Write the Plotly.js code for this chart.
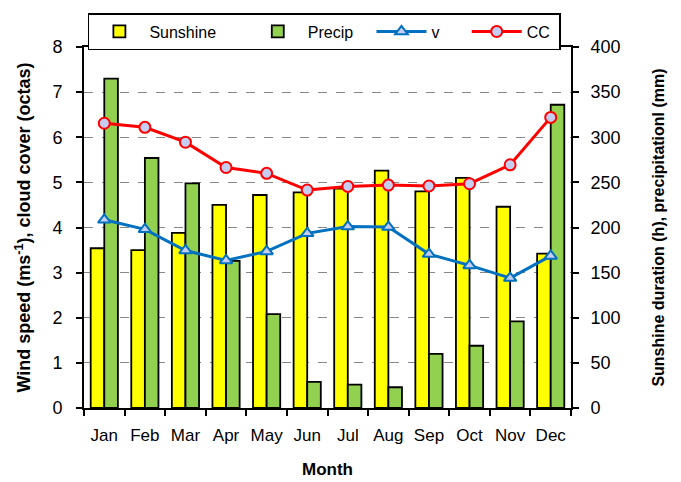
<!DOCTYPE html>
<html>
<head>
<meta charset="utf-8">
<script src="https://cdn.plot.ly/plotly-3.0.1.min.js"></script>
<style>html,body{margin:0;padding:0;background:#fff;}#chart{width:681px;height:482px;}</style>
</head>
<body>
<div id="chart"></div>
<script>
const months = ["Jan","Feb","Mar","Apr","May","Jun","Jul","Aug","Sep","Oct","Nov","Dec"];
const sunshine = [177,175,194,225,236,239,243,263,240,255,223,171];
const precip = [365,277,249,163,104,29,26,23,60,69,96,336];
const windSpeed = [4.17,3.96,3.49,3.27,3.47,3.87,4.02,4.01,3.41,3.16,2.88,3.37];
const cloudCover = [6.31,6.22,5.89,5.33,5.20,4.83,4.91,4.94,4.92,4.97,5.39,6.44];
const leftTicks = [0,1,2,3,4,5,6,7,8];
const rightTicks = [0,50,100,150,200,250,300,350,400];
const seriesNames = ["Sunshine","Precip","v","CC"];

const FONT = "Liberation Sans, Arial, sans-serif";
const NB = "\u00A0";
const pad = (s, n) => s + NB.repeat(n);

const data = [
  {type:"bar", x:months, y:sunshine, name:pad(seriesNames[0],6), yaxis:"y",
   marker:{color:"#ffff00", line:{color:"#000", width:1.8}}},
  {type:"bar", x:months, y:precip, name:pad(seriesNames[1],3), yaxis:"y",
   marker:{color:"#92d050", line:{color:"#000", width:1.8}}},
  {type:"scatter", mode:"lines+markers", x:months, y:windSpeed, name:pad(seriesNames[2],5), yaxis:"y2",
   line:{color:"#0070c0", width:3},
   marker:{symbol:"triangle-up", size:11, color:"#c5cdf0", line:{color:"#0070c0", width:2}}},
  {type:"scatter", mode:"lines+markers", x:months, y:cloudCover, name:pad(seriesNames[3],1), yaxis:"y2",
   line:{color:"#ff0000", width:3},
   marker:{symbol:"circle", size:11, color:"#c5cdf0", line:{color:"#ff0000", width:2}}}
];

const layout = {
  width:681, height:482,
  margin:{l:84, r:110, t:47, b:74, pad:0},
  paper_bgcolor:"#fff", plot_bgcolor:"#fff",
  font:{family:FONT, size:18, color:"#000"},
  barmode:"group", bargap:0.33, bargroupgap:0,
  showlegend:true,
  legend:{orientation:"h", x:0.008, xanchor:"left", y:1.094, yanchor:"top",
    bordercolor:"#000", borderwidth:1.5, bgcolor:"#fff",
    font:{family:FONT, size:16}, itemwidth:50, traceorder:"normal"},
  xaxis:{
    range:[-0.5, 11.5],
    tickfont:{family:FONT, size:17}, tickangle:0, ticklabelstandoff:11,
    showline:true, linecolor:"#000", linewidth:2, mirror:true,
    ticks:"outside", ticklen:6, tickwidth:1.5, tickcolor:"#000",
    tickson:"boundaries", showgrid:false, zeroline:false,
    title:{text:"Month", font:{family:FONT, size:17, color:"#000", weight:"bold"}, standoff:19}
  },
  yaxis:{
    side:"right", range:[0,400], tickvals:rightTicks, ticktext:rightTicks.map(String),
    showline:true, linecolor:"#000", linewidth:2,
    ticks:"outside", ticklen:6, tickwidth:1.5, tickcolor:"#000", ticklabelstandoff:8,
    showgrid:true, gridcolor:"#888", griddash:"dash", gridwidth:1, zeroline:false,
    tickfont:{family:FONT, size:18},
    title:{text:"Sunshine duration (h), precipitationl (mm)", font:{family:FONT, size:16, color:"#000", weight:"bold"}, standoff:33}
  },
  yaxis2:{
    overlaying:"y", side:"left", range:[0,8], tickvals:leftTicks, ticktext:leftTicks.map(String),
    showline:true, linecolor:"#000", linewidth:2,
    ticks:"outside", ticklen:6, tickwidth:1.5, tickcolor:"#000", ticklabelstandoff:10,
    showgrid:false, zeroline:false,
    tickfont:{family:FONT, size:18},
    title:{text:"Wind speed (ms<sup>-1</sup>), cloud cover (octas)", font:{family:FONT, size:18, color:"#000", weight:"bold"}, standoff:17}
  }
};

Plotly.newPlot("chart", data, layout, {displayModeBar:false, responsive:false});
</script>
</body>
</html>
